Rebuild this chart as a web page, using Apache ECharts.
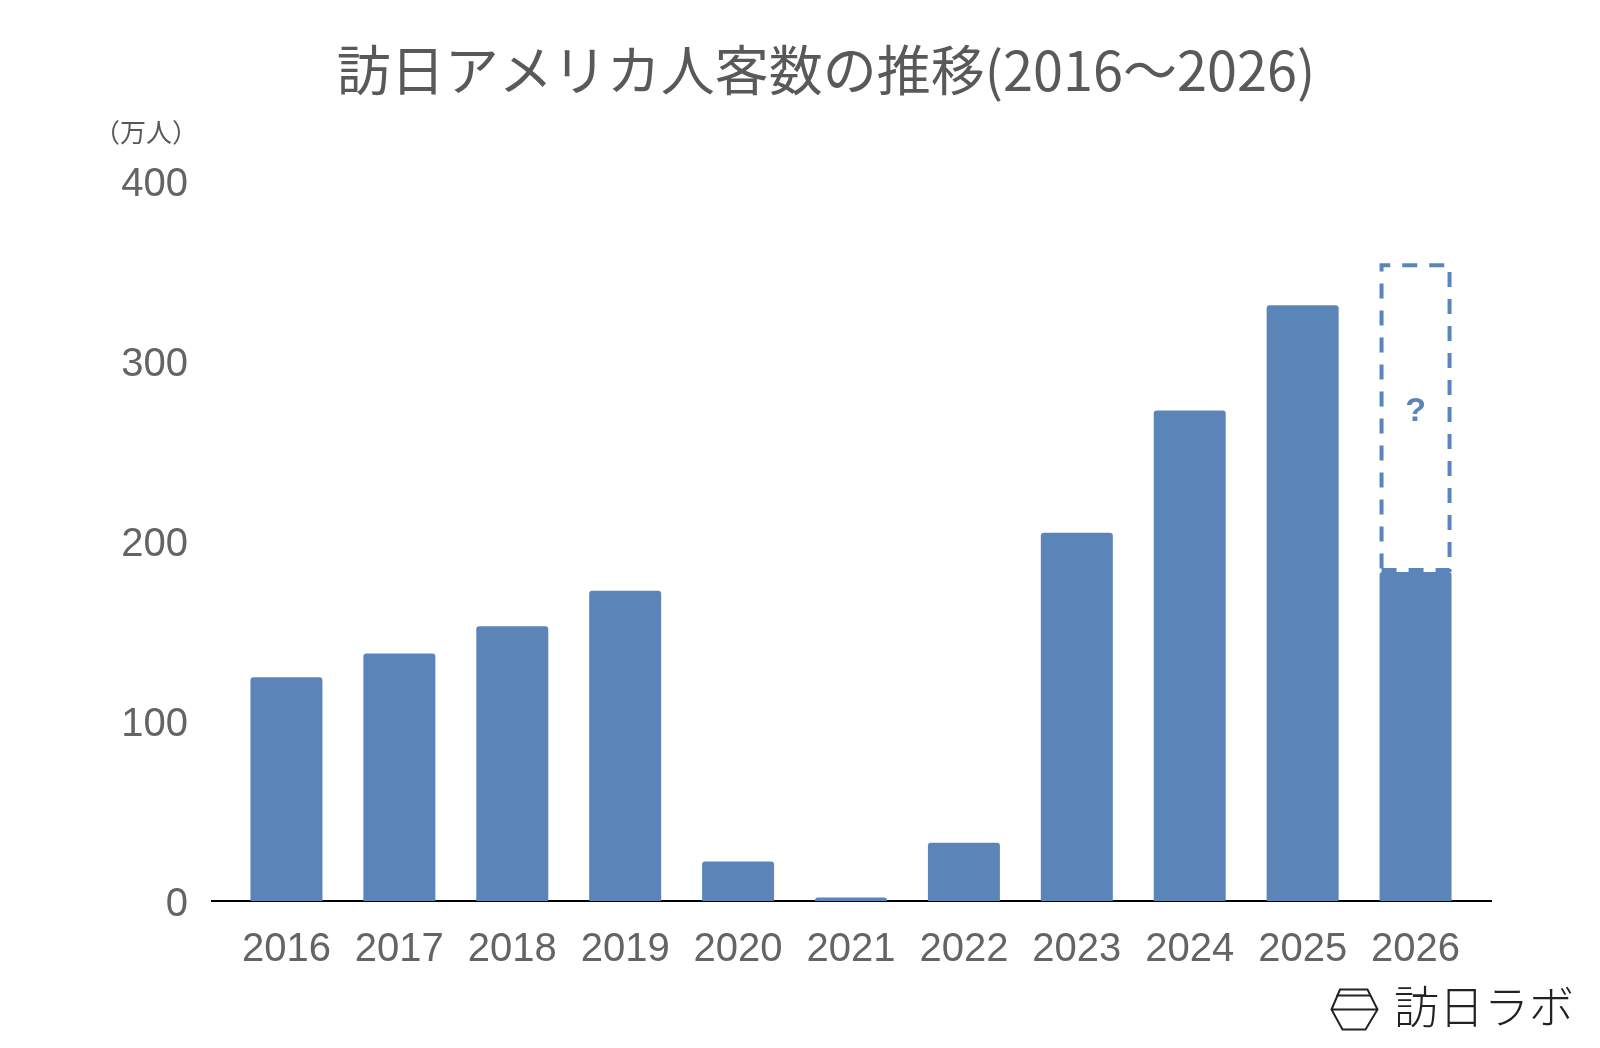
<!DOCTYPE html>
<html>
<head>
<meta charset="utf-8">
<script src="https://cdn.jsdelivr.net/npm/echarts@6/dist/echarts.min.js"></script>
<style>
html,body{margin:0;padding:0;background:#fff;}
#chart{width:1600px;height:1048px;}
</style>
</head>
<body>
<div id="chart"></div>
<script>
// ---- data (万人) ----
const years = ['2016','2017','2018','2019','2020','2021','2022','2023','2024','2025','2026'];
const visitors = [124.3, 137.5, 152.6, 172.4, 21.9, 2.0, 32.4, 204.6, 272.5, 331.0, 182.8];
const forecastRange = [null, null, null, null, null, null, null, null, null, null, 171.5];
const yTicks = [0, 100, 200, 300, 400];
const titleText = '訪日アメリカ人客数の推移(2016～2026)';
const unitText = '（万人）';
const brandText = '訪日ラボ';

const BLUE = '#5B85B8';
const GRAY = '#646464';
const GRID = {left: 230, right: 128, top: 181, bottom: 147};

const chart = echarts.init(document.getElementById('chart'));
chart.setOption({
  animation: false,
  backgroundColor: '#ffffff',
  title: [
    {text: titleText, left: 821, top: 38, textAlign: 'center',
     textStyle: {fontFamily: '"Noto Sans CJK JP"', fontSize: 54, fontWeight: 'normal', color: '#595959'}},
    {text: unitText, left: 89, top: 114,
     textStyle: {fontFamily: '"Noto Sans CJK JP"', fontSize: 26, fontWeight: 'normal', color: '#595959'}}
  ],
  grid: GRID,
  xAxis: {
    type: 'category',
    data: years,
    axisLine: {show: false},
    axisTick: {show: false},
    axisLabel: {interval: 0, fontFamily: '"Liberation Sans", Arial', fontSize: 40, color: GRAY, margin: 29}
  },
  yAxis: {
    type: 'value',
    min: yTicks[0], max: yTicks[yTicks.length - 1], interval: 100,
    axisLine: {show: false},
    axisTick: {show: false},
    splitLine: {show: false},
    axisLabel: {
      margin: 42,
      formatter: '{v|{value}}',
      rich: {v: {fontFamily: '"Liberation Sans", Arial', fontSize: 40, color: GRAY, padding: [7, 0, 0, 0]}}
    }
  },
  series: [
    {
      type: 'bar', stack: 'v', z: 3,
      data: visitors,
      barWidth: 72,
      itemStyle: {color: BLUE, borderRadius: [3, 3, 0, 0]}
    },
    {
      type: 'bar', stack: 'v', z: 4,
      data: forecastRange,
      barWidth: 72,
      itemStyle: {color: 'rgba(0,0,0,0)', borderColor: BLUE, borderWidth: 4, borderType: [15, 12]},
      label: {show: true, position: 'inside', formatter: '?', offset: [0, -6],
              color: BLUE, fontSize: 34, fontWeight: 'bold', fontFamily: '"Liberation Sans", Arial'}
    }
  ]
});

// baseline (extends slightly beyond the plot, like the original)
const y0 = chart.convertToPixel({yAxisIndex: 0}, 0);
const W = chart.getWidth();
chart.setOption({
  graphic: [
    {type: 'line', z: 1, shape: {x1: GRID.left - 19, y1: y0, x2: W - GRID.right + 20, y2: y0},
     style: {stroke: '#000', lineWidth: 2}},
    {type: 'group', left: 1329, top: 987, children: [
      {type: 'polygon', shape: {points: [[8.5,0],[36,0],[46,20],[34,40],[11,40],[0,20]]},
       style: {fill: 'none', stroke: '#222', lineWidth: 2}},
      {type: 'line', shape: {x1: 5, y1: 6, x2: 39, y2: 6}, style: {stroke: '#222', lineWidth: 2}},
      {type: 'line', shape: {x1: 0, y1: 20, x2: 46, y2: 20}, style: {stroke: '#222', lineWidth: 2}}
    ]},
    {type: 'text', x: 1484, y: 1007,
     style: {text: brandText, fontFamily: '"Noto Sans CJK JP"', fontSize: 45, fontWeight: 300,
             fill: '#222', align: 'center', verticalAlign: 'middle'}}
  ]
});
</script>
</body>
</html>
